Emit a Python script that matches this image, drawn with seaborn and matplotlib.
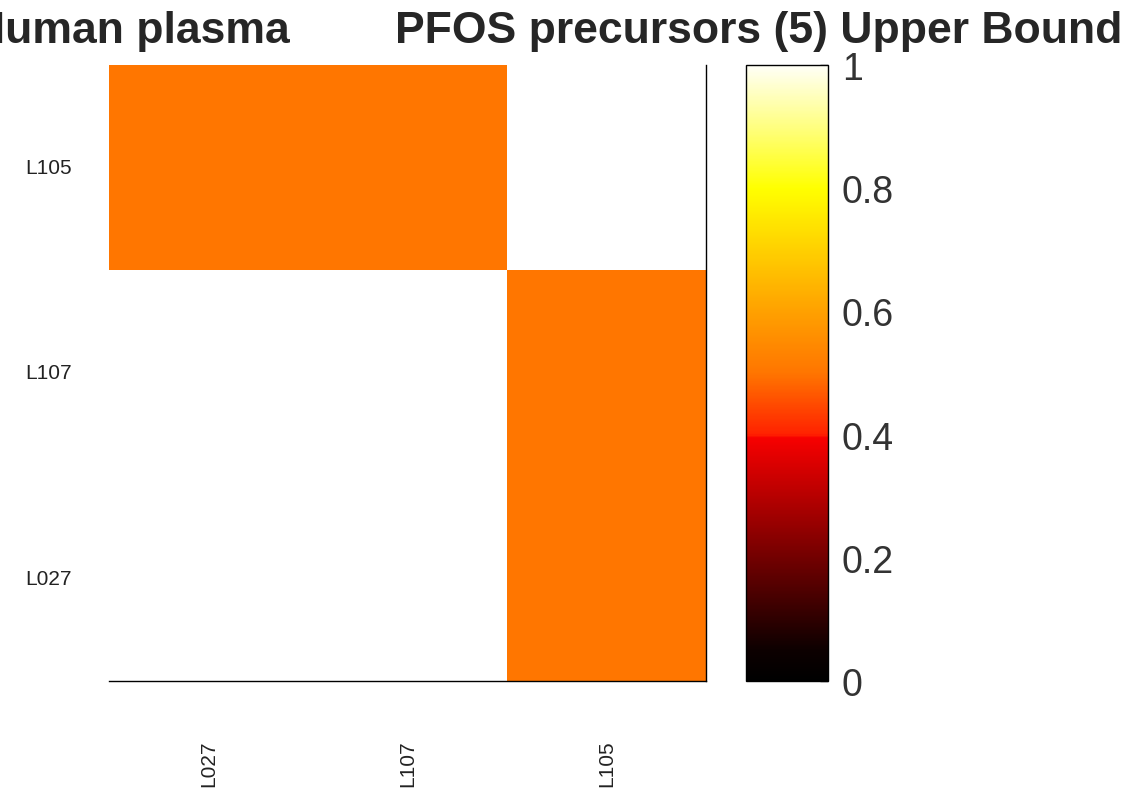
import numpy as np
import pandas as pd
import matplotlib
matplotlib.use("Agg")
import matplotlib.pyplot as plt
import seaborn as sns
from matplotlib.colors import LinearSegmentedColormap

# ---- data ----
row_labels = ["L105", "L107", "L027"]
col_labels = ["L027", "L107", "L105"]
row_L105 = [0.5, 0.5, np.nan]
row_L107 = [np.nan, np.nan, 0.5]
row_L027 = [np.nan, np.nan, 0.5]
cbar_ticks = [0, 0.2, 0.4, 0.6, 0.8, 1]
title_left = "Human plasma"
title_right = "PFOS precursors (5) Upper Bound"

df = pd.DataFrame([row_L105, row_L107, row_L027], index=row_labels, columns=col_labels)

sns.set_style("white")
plt.rcParams['font.family'] = ['Liberation Sans', 'DejaVu Sans']

stops = [
    (0.00, (0.0, 0.0, 0.0)),
    (0.05, (0.05, 0.0, 0.0)),
    (0.20, (0.45, 0.0, 0.0)),
    (0.395, (0.97, 0.0, 0.0)),
    (0.40, (1.0, 0.13, 0.0)),
    (0.50, (1.0, 0.46, 0.0)),
    (0.60, (1.0, 0.63, 0.0)),
    (0.80, (1.0, 1.0, 0.0)),
    (0.90, (1.0, 1.0, 0.5)),
    (1.00, (1.0, 1.0, 0.97)),
]
cmap = LinearSegmentedColormap.from_list("hotlike", stops, N=512)

fig = plt.figure(figsize=(11.37, 8.04), dpi=100)
W, H = 1137, 804
ax = fig.add_axes([109 / W, 1 - 682 / H, (706 - 109) / W, (682 - 66) / H])
cax = fig.add_axes([746 / W, 1 - 682 / H, (828 - 746) / W, (682 - 66) / H])

sns.heatmap(df, cmap=cmap, vmin=0, vmax=1, ax=ax, cbar_ax=cax,
            cbar_kws={"ticks": cbar_ticks})

ax.tick_params(axis='both', length=0)
ax.set_yticklabels(row_labels, rotation=0, ha='left', fontsize=15, color='#222222')
ax.tick_params(axis='y', pad=60)
ax.set_xticklabels(col_labels, rotation=90, ha='center', va='top', fontsize=15, color='#222222')
ax.tick_params(axis='x', pad=42)
for s in ['bottom', 'right']:
    ax.spines[s].set_visible(True)
    ax.spines[s].set_color('black')
    ax.spines[s].set_linewidth(1.0)
for s in ['top', 'left']:
    ax.spines[s].set_visible(False)

cb = ax.collections[0].colorbar
cb.outline.set_visible(True)
cb.outline.set_edgecolor('black')
cb.outline.set_linewidth(1.0)
cax.yaxis.set_ticks_position('right')
cax.tick_params(axis='y', which='major', direction='in', length=6, width=1.0,
                labelsize=27, colors='#333333', pad=10, right=True, left=False)
cb.set_ticklabels(["0", "0.2", "0.4", "0.6", "0.8", "1"])

fig.text(290 / W, 1 - 32 / H, title_left, ha='right', va='center',
         fontsize=32, fontweight='bold')
fig.text(395 / W, 1 - 32 / H, title_right, ha='left', va='center',
         fontsize=32, fontweight='bold')

fig.savefig("out.png", dpi=100)
